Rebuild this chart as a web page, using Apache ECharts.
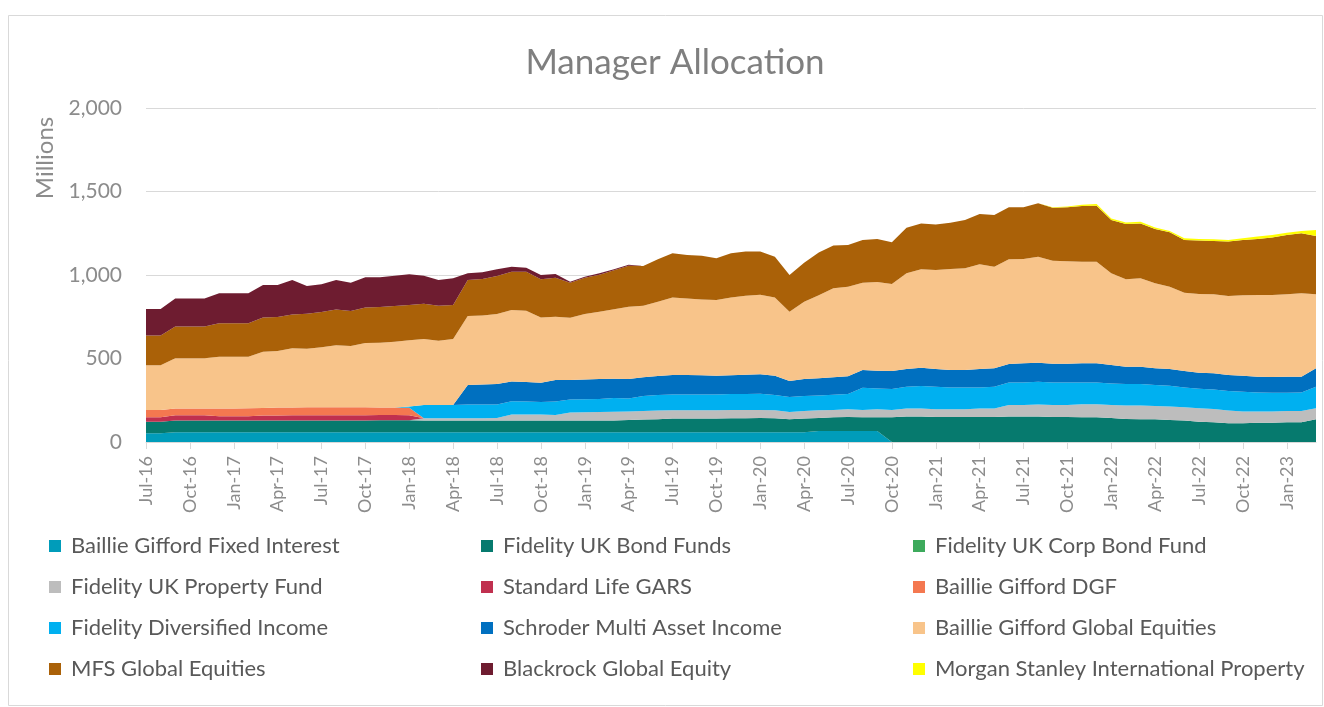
<!DOCTYPE html>
<html>
<head>
<meta charset="utf-8">
<script src="https://cdn.jsdelivr.net/npm/echarts@6/dist/echarts.min.js"></script>
<style>
html,body{margin:0;padding:0;background:#ffffff;}
#chart{width:1324px;height:707px;}
</style>
</head>
<body>
<div id="chart"></div>
<script>
const categories = [
"Jul-16","Aug-16","Sep-16","Oct-16","Nov-16","Dec-16",
"Jan-17","Feb-17","Mar-17","Apr-17","May-17","Jun-17","Jul-17","Aug-17","Sep-17","Oct-17","Nov-17","Dec-17",
"Jan-18","Feb-18","Mar-18","Apr-18","May-18","Jun-18","Jul-18","Aug-18","Sep-18","Oct-18","Nov-18","Dec-18",
"Jan-19","Feb-19","Mar-19","Apr-19","May-19","Jun-19","Jul-19","Aug-19","Sep-19","Oct-19","Nov-19","Dec-19",
"Jan-20","Feb-20","Mar-20","Apr-20","May-20","Jun-20","Jul-20","Aug-20","Sep-20","Oct-20","Nov-20","Dec-20",
"Jan-21","Feb-21","Mar-21","Apr-21","May-21","Jun-21","Jul-21","Aug-21","Sep-21","Oct-21","Nov-21","Dec-21",
"Jan-22","Feb-22","Mar-22","Apr-22","May-22","Jun-22","Jul-22","Aug-22","Sep-22","Oct-22","Nov-22","Dec-22",
"Jan-23","Feb-23","Mar-23"];

const bailliGiffordFixedInterest = [
52,52,58,58,58,58,58,58,58,58,
58,58,58,58,58,58,58,58,58,58,
58,58,58,58,58,58,58,58,58,58,
58,58,58,58,58,58,58,58,58,58,
58,58,58,58,58,58,66,66,66,66,
66,0,0,0,0,0,0,0,0,0,
0,0,0,0,0,0,0,0,0,0,
0,0,0,0,0,0,0,0,0,0,
0];

const fidelityUkBondFunds = [
70,70,70,70,70,70,70,70,70,70,
70,70,70,70,70,70,72,72,72,70,
70,70,70,70,70,70,70,70,70,70,
70,70,70,74,76,78,82,82,82,82,
84,84,86,84,78,82,78,82,84,82,
82,148,152,152,150,150,150,150,150,152,
152,152,150,150,148,148,144,138,136,136,
132,128,122,118,112,112,116,116,118,118,
136];

const fidelityUkCorpBondFund = [
0,0,0,0,0,0,0,0,0,0,
0,0,0,0,0,0,0,0,0,0,
0,0,0,0,0,0,0,0,0,0,
0,0,0,0,0,0,0,0,0,0,
0,0,0,0,0,0,0,0,0,0,
0,0,0,0,0,0,0,0,0,0,
0,0,0,0,0,0,0,0,0,0,
0,0,0,0,0,0,0,0,0,0,
0];

const fidelityUkPropertyFund = [
0,0,0,0,0,0,0,0,0,0,
0,0,0,0,0,0,0,0,0,14,
14,14,14,14,16,36,36,36,34,48,
50,52,53,50,52,52,50,50,50,50,
50,50,48,48,44,46,46,44,46,44,
48,44,48,49,46,46,46,50,51,70,
70,72,72,72,78,78,78,80,82,80,
80,80,80,80,76,70,66,66,68,68,
66];

const standardLifeGars = [
26,26,32,32,32,26,26,26,30,30,
32,32,32,32,32,32,32,32,30,0,
0,0,0,0,0,0,0,0,0,0,
0,0,0,0,0,0,0,0,0,0,
0,0,0,0,0,0,0,0,0,0,
0,0,0,0,0,0,0,0,0,0,
0,0,0,0,0,0,0,0,0,0,
0,0,0,0,0,0,0,0,0,0,
0];

const bailliGiffordDgf = [
44,44,40,40,40,46,46,48,46,48,
46,48,48,48,48,48,45,44,45,0,
0,0,0,0,0,0,0,0,0,0,
0,0,0,0,0,0,0,0,0,0,
0,0,0,0,0,0,0,0,0,0,
0,0,0,0,0,0,0,0,0,0,
0,0,0,0,0,0,0,0,0,0,
0,0,0,0,0,0,0,0,0,0,
0];

const fidelityDiversifiedIncome = [
0,0,0,0,0,0,0,0,0,0,
0,0,0,0,0,0,0,0,8,79,
79,79,83,83,81,80,78,76,80,78,
78,78,82,79,89,93,95,95,95,95,
95,95,97,91,89,89,89,91,91,133,
125,125,131,134,135,131,131,127,130,135,
135,137,135,135,131,131,129,129,129,125,
125,119,117,117,117,119,115,113,109,111,
129];

const schroderMultiAssetIncome = [
0,0,0,0,0,0,0,0,0,0,
0,0,0,0,0,0,0,0,0,0,
0,0,116,120,122,119,117,115,129,117,
119,119,116,116,112,114,116,116,114,112,
112,116,116,116,96,102,102,104,106,106,
106,108,106,110,106,104,104,110,110,110,
114,114,112,112,114,114,110,104,104,100,
100,98,96,96,96,96,94,94,96,94,
110];

const bailliGiffordGlobalEquities = [
267,267,301,301,301,311,311,309,337,339,
355,351,359,371,367,385,388,394,396,396,
386,396,413,412,419,427,427,391,379,373,
391,403,416,433,429,445,465,459,455,453,
467,473,477,469,415,463,497,533,537,523,
531,521,573,589,593,605,609,627,609,627,
625,635,617,613,609,609,549,523,529,509,
493,469,471,473,473,481,489,491,493,499,
443];

const mfsGlobalEquities = [
178,178,190,190,190,200,200,200,205,203,
203,209,211,215,209,213,213,214,211,211,
209,203,216,219,228,230,234,228,234,210,
218,222,233,246,238,254,264,260,262,250,
264,264,258,244,220,234,256,256,250,256,
258,250,273,275,273,277,289,301,309,311,
309,319,317,323,333,335,319,331,329,325,
326,316,320,320,326,332,336,344,356,360,
350];

const blackrockGlobalEquity = [
159,159,169,169,169,179,179,179,194,192,
206,166,166,176,170,180,178,182,184,168,
154,160,40,40,40,30,24,26,22,6,
6,8,6,6,0,0,0,0,0,0,
0,0,0,0,0,0,0,0,0,0,
0,0,0,0,0,0,0,0,0,0,
0,0,0,0,0,0,0,0,0,0,
0,0,0,0,0,0,0,0,0,0,
0];

const morganStanleyIntlProperty = [
0,0,0,0,0,0,0,0,0,0,
0,0,0,0,0,0,0,0,0,0,
0,0,0,0,0,0,0,0,0,0,
0,0,0,0,0,0,0,0,0,0,
0,0,0,0,0,0,0,0,0,0,
0,0,0,0,0,0,0,0,0,0,
0,0,3,5,8,10,10,10,10,10,
8,10,10,10,10,10,14,16,13,13,
35];

const seriesNames = [
"Baillie Gifford Fixed Interest","Fidelity UK Bond Funds","Fidelity UK Corp Bond Fund",
"Fidelity UK Property Fund","Standard Life GARS","Baillie Gifford DGF",
"Fidelity Diversified Income","Schroder Multi Asset Income","Baillie Gifford Global Equities",
"MFS Global Equities","Blackrock Global Equity","Morgan Stanley International Property"];

const seriesData = [
bailliGiffordFixedInterest, fidelityUkBondFunds, fidelityUkCorpBondFund,
fidelityUkPropertyFund, standardLifeGars, bailliGiffordDgf,
fidelityDiversifiedIncome, schroderMultiAssetIncome, bailliGiffordGlobalEquities,
mfsGlobalEquities, blackrockGlobalEquity, morganStanleyIntlProperty];

const seriesColors = [
"#009CBA","#067A6E","#3DAA5C","#BDBDBD","#C0304F","#F47850",
"#00B0F0","#0070C0","#F8C48A","#AA6108","#6E1C30","#FFFF00"];

const FONT = "Lato, 'Open Sans', sans-serif";

const chart = echarts.init(document.getElementById('chart'), null, {renderer: 'canvas'});

const legendCommon = {
  orient: 'vertical',
  top: 535,
  itemGap: 19,
  itemWidth: 12,
  itemHeight: 12,
  icon: 'rect',
  padding: 0,
  selectedMode: false,
  textStyle: {fontFamily: FONT, fontSize: 22, color: '#595959', lineHeight: 22, padding: [0,0,0,5]}
};

const option = {
  animation: false,
  backgroundColor: '#ffffff',
  title: {
    text: 'Manager Allocation',
    left: 670,
    textAlign: 'center',
    top: 40,
    textStyle: {fontFamily: FONT, fontSize: 35, fontWeight: 'normal', color: '#7f7f7f'}
  },
  grid: {left: 146, right: 8, top: 108, bottom: 265, containLabel: false},
  xAxis: {
    type: 'category',
    boundaryGap: false,
    data: categories,
    axisLine: {show: true, lineStyle: {color: '#d9d9d9'}},
    axisTick: {show: true, interval: 2, length: 7, lineStyle: {color: '#d9d9d9'}},
    axisLabel: {interval: 2, rotate: 90, fontFamily: FONT, fontSize: 18, color: '#8c8c8c', margin: 14}
  },
  yAxis: {
    type: 'value',
    min: 0, max: 2000, interval: 500,
    axisLine: {show: false},
    axisTick: {show: false},
    splitLine: {show: true, lineStyle: {color: '#d9d9d9', width: 1}},
    axisLabel: {fontFamily: FONT, fontSize: 21, color: '#8c8c8c', margin: 24,
      formatter: v => v.toLocaleString('en-US')}
  },
  legend: [
    Object.assign({}, legendCommon, {left: 49, data: [seriesNames[0], seriesNames[3], seriesNames[6], seriesNames[9]]}),
    Object.assign({}, legendCommon, {left: 481, data: [seriesNames[1], seriesNames[4], seriesNames[7], seriesNames[10]]}),
    Object.assign({}, legendCommon, {left: 913, data: [seriesNames[2], seriesNames[5], seriesNames[8], seriesNames[11]]})
  ],
  graphic: [
    {type: 'rect', silent: true, shape: {x: 8.5, y: 15.5, width: 1314, height: 690},
     style: {fill: 'none', stroke: '#d9d9d9', lineWidth: 1}},
    {type: 'text', silent: true, x: 45, y: 158, rotation: Math.PI / 2,
     style: {text: 'Millions', font: "24px Lato, 'Open Sans', sans-serif", fill: '#8c8c8c', align: 'center', verticalAlign: 'middle'}}
  ],
  series: seriesNames.map((name, k) => ({
    name: name,
    type: 'line',
    stack: 'total',
    data: seriesData[k],
    symbol: 'none',
    showSymbol: false,
    silent: true,
    lineStyle: {width: 0, color: seriesColors[k]},
    itemStyle: {color: seriesColors[k]},
    areaStyle: {color: seriesColors[k], opacity: 1},
    emphasis: {disabled: true}
  }))
};

chart.setOption(option);
</script>
</body>
</html>
